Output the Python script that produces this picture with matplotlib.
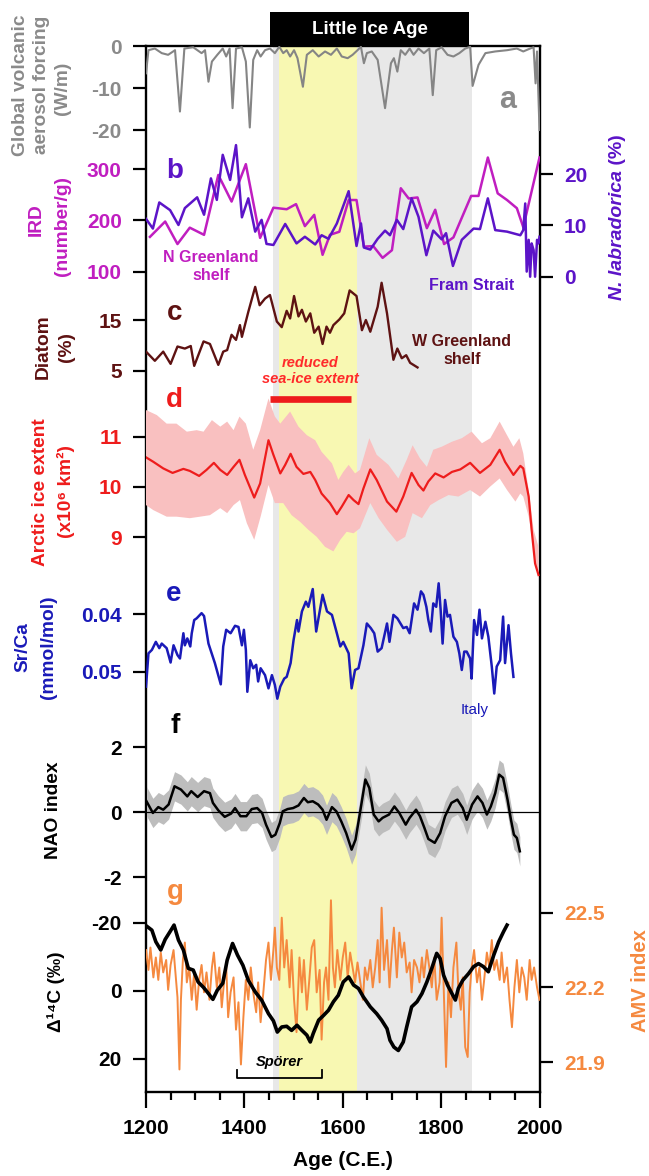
import matplotlib
matplotlib.use("Agg")
import matplotlib.pyplot as plt
import matplotlib.transforms as mtransforms
from matplotlib.patches import Rectangle
from matplotlib.ticker import MultipleLocator, FormatStrFormatter
import numpy as np

plt.rcParams['font.family'] = ['Liberation Sans', 'DejaVu Sans']
plt.rcParams['font.weight'] = 'bold'
plt.rcParams['axes.unicode_minus'] = False

# ---------------- data ----------------
lia_span = (1459, 1863)        # grey band / Little Ice Age
yellow_span = (1471, 1629)     # yellow band
lia_box = (1453, 1857)         # black title box
sea_ice_span = (1452, 1616)    # red "reduced sea-ice extent" bar
sporer_span = (1386, 1558)

# a: volcanic forcing (W/m)
volc_year = [1200, 1205, 1218, 1232, 1245, 1259, 1269, 1278, 1296, 1313, 1320, 1327, 1334, 1345,
             1356, 1363, 1370, 1376, 1383, 1395, 1403, 1411, 1418, 1426, 1433, 1442, 1452, 1462,
             1471, 1479, 1486, 1493, 1501, 1508, 1519, 1527, 1539, 1551, 1564, 1576, 1588, 1598,
             1610, 1620, 1630, 1637, 1643, 1649, 1659, 1671, 1686, 1698, 1704, 1711, 1718, 1727,
             1736, 1744, 1754, 1765, 1776, 1783, 1790, 1801, 1813, 1825, 1837, 1849, 1859, 1864,
             1876, 1890, 1910, 1934, 1954, 1967, 1981, 1988, 1992, 1995, 2000]
volc = [-6.5, -1.0, -0.6, -1.7, -2.1, -1.0, -15.6, -0.6, -0.3, -1.7, -1.0, -8.5, -3.7, -2.1,
        -0.6, -2.5, -0.6, -14.8, -0.6, -0.3, -3.7, -19.4, -3.3, -1.0, -2.5, -1.0, -0.6, -1.7,
        -0.2, -1.7, -1.0, -2.5, -1.0, -2.9, -9.7, -2.1, -1.0, -2.5, -1.3, -2.1, -0.6, -2.5,
        -2.9, -2.1, -1.0, -0.2, -4.1, -1.7, -1.3, -3.3, -14.8, -4.1, -2.9, -6.1, -1.0, -2.1,
        -0.6, -2.1, -0.6, -1.7, -0.6, -11.7, -1.0, -0.3, -2.1, -2.5, -1.7, -0.6, -0.2, -9.5,
        -4.5, -1.7, -1.3, -1.0, -0.6, -1.3, -0.6, -0.3, -8.9, -1.3, -20.0]

# b: IRD N Greenland shelf (number/g)
ird_year = [1208, 1239, 1264, 1289, 1318, 1347, 1374, 1403, 1432, 1459, 1486, 1505, 1523,
            1542, 1559, 1574, 1593, 1612, 1628, 1643, 1662, 1681, 1700, 1718, 1734, 1752,
            1771, 1788, 1806, 1825, 1861, 1876, 1895, 1915, 1934, 1954, 1967, 2000]
ird = [168, 198, 154, 186, 172, 289, 237, 310, 166, 225, 222, 232, 189,
       211, 133, 172, 178, 240, 240, 149, 150, 127, 142, 263, 243, 245,
       185, 221, 154, 167, 248, 248, 323, 253, 240, 224, 187, 323]

# b: N. labradorica, Fram Strait (%)
nl_year = [1200, 1214, 1227, 1249, 1266, 1279, 1304, 1318, 1332, 1344, 1356, 1371, 1383,
           1395, 1408, 1422, 1435, 1445, 1459, 1483, 1506, 1523, 1544, 1557, 1571, 1588,
           1612, 1628, 1637, 1643, 1656, 1671, 1686, 1696, 1710, 1723, 1740, 1754, 1770,
           1784, 1801, 1810, 1824, 1842, 1866, 1879, 1895, 1910, 1934, 1961, 1967, 1971,
           1974, 1978, 1981, 1984, 1988, 1991, 1995, 1998, 2000]
nl = [11.3, 9.4, 14.5, 13.0, 10.1, 13.4, 15.5, 12.1, 19.2, 15.0, 23.8, 18.9, 25.7,
      11.6, 15.3, 8.8, 11.1, 6.4, 6.2, 10.3, 6.5, 7.8, 6.3, 8.1, 7.4, 10.4,
      16.7, 6.0, 10.4, 5.7, 5.3, 7.4, 9.0, 8.1, 11.1, 9.3, 15.3, 11.7, 4.2,
      9.0, 7.3, 8.5, 2.1, 7.2, 9.4, 9.3, 15.3, 9.1, 8.8, 8.1, 9.1, 14.3,
      1.0, 7.2, 0.0, 6.5, 5.2, 0.0, 7.2, 6.5, 7.8]

# c: diatom, W Greenland shelf (%)
dia_year = [1200, 1218, 1235, 1250, 1264, 1279, 1291, 1298, 1317, 1330, 1347, 1357, 1365,
            1374, 1383, 1391, 1395, 1408, 1422, 1431, 1442, 1452, 1466, 1476, 1486, 1493,
            1501, 1510, 1517, 1525, 1534, 1542, 1551, 1559, 1567, 1574, 1581, 1593, 1603,
            1614, 1628, 1639, 1647, 1656, 1671, 1679, 1690, 1703, 1711, 1720, 1729, 1737, 1752]
dia = [8.8, 7.0, 8.8, 6.4, 9.8, 9.4, 9.9, 6.0, 10.8, 10.3, 6.2, 8.8, 9.1,
       12.1, 11.1, 14.0, 11.7, 16.6, 21.5, 17.9, 19.2, 19.9, 14.7, 13.6, 16.8, 15.3,
       19.7, 15.7, 17.0, 14.7, 16.3, 12.5, 13.7, 10.3, 13.7, 12.5, 14.0, 15.1, 16.3,
       20.8, 19.7, 13.0, 15.0, 12.7, 17.6, 22.3, 16.3, 7.2, 9.4, 7.5, 8.1, 6.6, 5.7]

# d: Arctic sea-ice extent (x10^6 km2)
ice_year = [1200, 1215, 1235, 1254, 1276, 1289, 1308, 1323, 1338, 1351, 1365, 1378, 1390,
            1401, 1420, 1432, 1449, 1459, 1473, 1483, 1494, 1506, 1520, 1534, 1544, 1557,
            1574, 1588, 1598, 1612, 1622, 1632, 1642, 1656, 1669, 1690, 1709, 1723, 1740,
            1754, 1764, 1774, 1788, 1805, 1822, 1839, 1859, 1879, 1900, 1919, 1930, 1947,
            1961, 1967, 1978, 1984, 1991, 1998]
ice = [10.59, 10.50, 10.37, 10.28, 10.36, 10.32, 10.22, 10.34, 10.48, 10.34, 10.24, 10.40, 10.54,
       10.24, 9.79, 10.07, 10.93, 10.64, 10.27, 10.44, 10.66, 10.40, 10.26, 10.30, 10.14, 9.87,
       9.68, 9.46, 9.61, 9.84, 9.74, 9.66, 9.97, 10.35, 10.14, 9.71, 9.51, 9.81, 10.28,
       10.04, 9.93, 10.11, 10.27, 10.19, 10.30, 10.35, 10.48, 10.28, 10.44, 10.74, 10.50, 10.24,
       10.42, 10.37, 9.81, 9.15, 8.48, 8.25]
ice_hi_year = [1200, 1222, 1242, 1262, 1283, 1303, 1317, 1334, 1351, 1365, 1378, 1390, 1403,
               1418, 1432, 1449, 1462, 1473, 1493, 1510, 1527, 1544, 1557, 1578, 1591, 1601,
               1612, 1625, 1635, 1654, 1669, 1693, 1713, 1730, 1742, 1757, 1771, 1784, 1801,
               1822, 1842, 1862, 1883, 1900, 1919, 1934, 1947, 1959, 1967, 1978, 1988, 1998]
ice_hi = [11.53, 11.43, 11.26, 11.26, 11.10, 11.13, 11.10, 11.33, 11.20, 11.30, 11.13, 11.40, 11.26,
          10.74, 11.13, 11.76, 11.40, 11.26, 11.50, 11.20, 11.03, 10.93, 10.70, 10.47, 10.14, 10.30,
          10.44, 10.27, 10.34, 10.97, 10.64, 10.44, 10.17, 10.54, 10.83, 10.57, 10.40, 10.74, 10.80,
          10.90, 10.97, 11.10, 10.87, 10.97, 11.30, 11.03, 10.80, 10.97, 10.67, 9.94, 9.15, 8.81]
ice_lo_year = [1200, 1215, 1242, 1262, 1289, 1310, 1330, 1351, 1365, 1378, 1391, 1405, 1420,
               1433, 1449, 1462, 1479, 1496, 1513, 1530, 1547, 1564, 1581, 1595, 1608, 1622,
               1635, 1656, 1673, 1690, 1710, 1727, 1742, 1761, 1778, 1795, 1815, 1835, 1859,
               1879, 1900, 1919, 1934, 1951, 1961, 1967, 1978, 1988, 1998]
ice_lo = [9.64, 9.54, 9.41, 9.41, 9.38, 9.41, 9.44, 9.58, 9.48, 9.64, 9.74, 9.28, 8.95,
          9.41, 10.04, 9.68, 9.68, 9.44, 9.31, 9.15, 9.01, 8.81, 8.72, 8.95, 9.11, 9.08,
          9.18, 9.68, 9.38, 9.15, 8.91, 9.01, 9.48, 9.38, 9.64, 9.74, 9.84, 9.81, 9.94,
          9.81, 10.01, 10.17, 9.94, 9.71, 9.87, 9.81, 9.41, 8.81, 8.15]

# e: Sr/Ca, Italy (mmol/mol)
sr_year = [1200, 1205, 1212, 1220, 1227, 1232, 1242, 1250, 1256, 1264, 1269, 1276, 1279, 1284,
           1290, 1293, 1298, 1303, 1313, 1318, 1327, 1340, 1352, 1357, 1363, 1372, 1381, 1388,
           1395, 1399, 1403, 1406, 1412, 1418, 1424, 1428, 1433, 1442, 1449, 1456, 1462, 1467,
           1473, 1481, 1486, 1494, 1500, 1507, 1510, 1517, 1525, 1530, 1539, 1546, 1559, 1568,
           1578, 1588, 1595, 1601, 1612, 1618, 1625, 1632, 1642, 1649, 1657, 1664, 1671, 1679,
           1690, 1695, 1703, 1711, 1723, 1730, 1736, 1745, 1752, 1759, 1764, 1770, 1774, 1779,
           1784, 1790, 1795, 1799, 1803, 1808, 1813, 1818, 1825, 1832, 1837, 1842, 1847, 1852,
           1859, 1862, 1867, 1873, 1878, 1883, 1890, 1896, 1903, 1908, 1913, 1920, 1926, 1930,
           1937, 1942, 1947]
sr = [0.0526, 0.0468, 0.0462, 0.0448, 0.0459, 0.0451, 0.0459, 0.0484, 0.0454, 0.0471,
      0.0477, 0.0433, 0.0454, 0.0442, 0.0456, 0.0433, 0.0410, 0.0407, 0.0398, 0.0403,
      0.0451, 0.0485, 0.0522, 0.0456, 0.0427, 0.0433, 0.0420, 0.0422, 0.0454, 0.0427,
      0.0462, 0.0535, 0.0480, 0.0494, 0.0488, 0.0517, 0.0494, 0.0506, 0.0529, 0.0506,
      0.0523, 0.0547, 0.0526, 0.0512, 0.0509, 0.0485, 0.0445, 0.0410, 0.0430, 0.0395,
      0.0378, 0.0387, 0.0356, 0.0430, 0.0366, 0.0395, 0.0401, 0.0433, 0.0456, 0.0448,
      0.0468, 0.0529, 0.0497, 0.0494, 0.0454, 0.0416, 0.0424, 0.0433, 0.0465, 0.0459,
      0.0416, 0.0448, 0.0401, 0.0407, 0.0424, 0.0422, 0.0433, 0.0381, 0.0392, 0.0360,
      0.0366, 0.0387, 0.0410, 0.0430, 0.0381, 0.0387, 0.0346, 0.0392, 0.0451, 0.0375,
      0.0404, 0.0401, 0.0439, 0.0448, 0.0468, 0.0497, 0.0465, 0.0465, 0.0477, 0.0512,
      0.0410, 0.0436, 0.0392, 0.0442, 0.0413, 0.0439, 0.0491, 0.0538, 0.0491, 0.0480,
      0.0404, 0.0485, 0.0419, 0.0468, 0.0509]

# f: NAO index
nao_year = [1201, 1214, 1225, 1235, 1246, 1258, 1271, 1284, 1292, 1305, 1318, 1330, 1336,
            1347, 1360, 1373, 1381, 1392, 1404, 1415, 1426, 1436, 1444, 1455, 1463, 1472,
            1478, 1488, 1499, 1510, 1521, 1529, 1539, 1550, 1559, 1567, 1578, 1587, 1597,
            1607, 1618, 1626, 1635, 1646, 1654, 1663, 1673, 1681, 1694, 1705, 1715, 1728,
            1736, 1749, 1757, 1766, 1774, 1787, 1798, 1808, 1821, 1833, 1844, 1852, 1863,
            1874, 1884, 1893, 1901, 1910, 1918, 1926, 1935, 1942, 1948, 1954, 1960]
nao = [0.34, -0.02, 0.16, 0.08, 0.24, 0.80, 0.70, 0.49, 0.65, 0.47, 0.65, 0.59, 0.29,
       0.06, -0.14, -0.04, 0.13, -0.12, -0.12, 0.10, 0.13, -0.02, -0.38, -0.76, -0.69, -0.33,
       0.03, 0.10, 0.13, 0.21, 0.44, 0.31, 0.34, 0.24, 0.08, -0.23, 0.16, 0.03, -0.28,
       -0.64, -1.15, -0.84, -0.02, 1.01, 0.75, -0.07, -0.28, -0.17, -0.07, 0.18, -0.02, -0.38,
       -0.17, 0.08, -0.12, -0.48, -0.82, -0.94, -0.64, -0.12, 0.29, 0.39, 0.13, -0.23, 0.24,
       0.49, 0.29, -0.07, 0.18, 0.59, 1.16, 1.06, 0.39, -0.23, -0.69, -0.79, -1.20]
nao_err = 0.45

# g: Delta 14C (permil)
c14_year = [1203, 1212, 1220, 1230, 1239, 1249, 1257, 1266, 1276, 1286, 1296, 1306, 1317,
            1327, 1336, 1345, 1356, 1365, 1376, 1386, 1397, 1408, 1422, 1435, 1449, 1459,
            1467, 1476, 1486, 1496, 1507, 1517, 1527, 1534, 1540, 1551, 1561, 1571, 1581,
            1591, 1601, 1612, 1622, 1632, 1642, 1656, 1669, 1679, 1690, 1696, 1704, 1713,
            1723, 1730, 1740, 1751, 1761, 1771, 1781, 1791, 1798, 1805, 1813, 1822, 1829,
            1835, 1844, 1856, 1866, 1876, 1886, 1896, 1907, 1917, 1927, 1934]
c14 = [-18.8, -17.8, -14.4, -12.0, -15.1, -17.4, -19.3, -14.9, -12.0, -6.6, -6.1, -2.6, -1.0,
       0.8, 2.5, -0.2, -2.2, -9.0, -13.9, -10.5, -7.5, -3.1, 0.3, 2.7, 6.7, 8.8,
       12.1, 10.6, 10.4, 11.6, 10.1, 11.6, 13.0, 15.0, 12.5, 8.6, 7.2, 5.7, 3.2,
       1.3, -2.6, -4.1, -1.7, -0.7, 1.8, 4.7, 6.7, 8.6, 11.1, 14.5, 16.5, 17.5,
       15.0, 10.6, 4.7, 3.2, 0.8, -2.6, -6.6, -11.0, -9.5, -4.6, -1.7, 0.8, 2.7,
       -0.7, -3.1, -5.1, -7.1, -8.0, -7.1, -5.6, -10.5, -14.4, -17.4, -19.3]

# g: AMV index
amv_year = [1200, 1205, 1209, 1215, 1220, 1225, 1230, 1235, 1241, 1245,
            1250, 1256, 1261, 1264, 1268, 1271, 1275, 1279, 1283, 1288,
            1293, 1298, 1303, 1308, 1313, 1318, 1323, 1329, 1334, 1338,
            1344, 1349, 1354, 1359, 1363, 1367, 1372, 1378, 1383, 1388,
            1393, 1398, 1403, 1408, 1413, 1418, 1424, 1428, 1433, 1439,
            1444, 1449, 1454, 1459, 1462, 1466, 1471, 1476, 1481, 1486,
            1492, 1496, 1501, 1506, 1512, 1517, 1521, 1527, 1532, 1537,
            1542, 1547, 1553, 1557, 1562, 1566, 1571, 1576, 1580, 1584,
            1589, 1595, 1600, 1605, 1610, 1615, 1620, 1625, 1630, 1635,
            1641, 1645, 1650, 1656, 1661, 1666, 1671, 1675, 1679, 1684,
            1690, 1695, 1700, 1704, 1710, 1715, 1720, 1725, 1730, 1736,
            1740, 1745, 1751, 1756, 1761, 1765, 1771, 1776, 1781, 1786,
            1791, 1797, 1801, 1806, 1810, 1815, 1820, 1825, 1831, 1835,
            1840, 1844, 1849, 1854, 1858, 1862, 1867, 1873, 1878, 1883,
            1887, 1893, 1898, 1903, 1908, 1913, 1919, 1923, 1928, 1934,
            1939, 1944, 1949, 1954, 1959, 1964, 1969, 1974, 1980, 1984,
            1989, 1995, 2000]
amv = [22.35, 22.27, 22.36, 22.24, 22.32, 22.23, 22.34, 22.26, 22.31, 22.19,
       22.29, 22.35, 22.23, 22.16, 21.87, 22.15, 22.31, 22.38, 22.22, 22.28,
       22.15, 22.26, 22.11, 22.23, 22.29, 22.18, 22.26, 22.15, 22.28, 22.34,
       22.20, 22.28, 22.12, 22.23, 22.29, 22.08, 22.18, 22.24, 22.03, 22.14,
       21.89, 22.08, 22.23, 22.15, 22.28, 22.18, 22.10, 22.22, 22.06, 22.19,
       22.31, 22.38, 22.23, 22.35, 22.44, 22.28, 22.23, 22.48, 22.28, 22.39,
       22.20, 22.35, 22.15, 22.02, 22.32, 22.18, 22.31, 22.11, 22.23, 22.36,
       22.39, 22.18, 22.27, 21.99, 22.22, 22.28, 22.15, 22.55, 22.28, 22.20,
       22.35, 22.23, 22.32, 22.38, 22.24, 22.34, 22.28, 22.22, 22.30, 22.23,
       22.15, 22.28, 22.23, 22.31, 22.20, 22.28, 22.39, 22.22, 22.52, 22.27,
       22.39, 22.20, 22.35, 22.44, 22.24, 22.42, 22.32, 22.38, 22.26, 22.30,
       22.18, 22.31, 22.28, 22.22, 22.32, 22.24, 22.35, 22.28, 22.20, 22.32,
       22.15, 22.22, 22.48, 22.15, 21.88, 22.22, 22.08, 22.28, 22.38, 22.19,
       22.11, 22.24, 21.96, 21.92, 22.18, 22.28, 22.35, 22.22, 22.28, 22.15,
       22.22, 22.34, 22.28, 22.39, 22.27, 22.31, 22.23, 22.34, 22.22, 22.28,
       22.15, 22.04, 22.20, 22.31, 22.18, 22.28, 22.24, 22.15, 22.31, 22.23,
       22.28, 22.20, 22.15]

# ---------------- colours ----------------
GREY = '#8a8a8a'
MAGENTA = '#c01ec0'
PURPLE = '#5c14c8'
BROWN = '#5e1212'
RED = '#ee1c1c'
PINK = '#f9c0c0'
BLUE = '#1a1ab8'
ORANGE = '#f5893f'

# ---------------- layout (pixels of a 649 x 1176 canvas) ----------------
W, H = 649, 1176
X0, X1 = 146, 539.5
TOP, BOT = 46, 1092
TICK_FS = 15


def fpos(x, y):
    return x / W, 1 - y / H


fig = plt.figure(figsize=(W / 100, H / 100), dpi=100)

frame = fig.add_axes([X0 / W, 1 - BOT / H, (X1 - X0) / W, (BOT - TOP) / H])
frame.set_xlim(1200, 2000)
frame.set_ylim(0, 1)
frame.set_yticks([])
frame.axvspan(*lia_span, color='#e8e8e8', lw=0, zorder=0)
frame.axvspan(*yellow_span, color='#f8f8b2', lw=0, zorder=0)
for s in frame.spines.values():
    s.set_linewidth(1.7)
frame.set_xticks(range(1200, 2001, 200))
frame.xaxis.set_minor_locator(MultipleLocator(50))
frame.tick_params(axis='x', which='major', direction='out', length=11.5, width=1.6,
                  pad=8, labelsize=TICK_FS)
frame.tick_params(axis='x', which='minor', direction='out', length=6, width=1.6)
frame.set_xlabel('Age (C.E.)', fontsize=15, fontweight='bold', labelpad=9)

# Little Ice Age box on top of the frame
blend = mtransforms.blended_transform_factory(frame.transData, frame.transAxes)
box_h = 34 / (BOT - TOP)
frame.add_patch(Rectangle((lia_box[0], 1.0), lia_box[1] - lia_box[0], box_h,
                          transform=blend, facecolor='black', edgecolor='none', clip_on=False))
frame.text(sum(lia_box) / 2, 1.0 + box_h / 2, 'Little Ice Age', transform=blend, color='white',
           ha='center', va='center', fontsize=13.5)


def panel(top, bot, v1, p1, v2, p2, color, right=False):
    ax = fig.add_axes([X0 / W, 1 - bot / H, (X1 - X0) / W, (bot - top) / H])
    ax.patch.set_visible(False)
    for s in ax.spines.values():
        s.set_visible(False)
    ax.set_xlim(1200, 2000)
    k = (v2 - v1) / (p2 - p1)
    ax.set_ylim(v1 + (bot - p1) * k, v1 + (top - p1) * k)
    ax.tick_params(axis='x', bottom=False, labelbottom=False)
    if right:
        ax.yaxis.tick_right()
    ax.tick_params(axis='y', direction='out', length=9.5, width=1.6, pad=8,
                   labelsize=TICK_FS, labelcolor=color)
    return ax


# a
ax_a = panel(TOP, 140, 0, 46, -20, 130, GREY)
ax_a.plot(volc_year, volc, color='#858585', lw=1.5)
ax_a.set_yticks([0, -10, -20])

# b
ax_b = panel(140, 300, 300, 169.3, 100, 271.7, MAGENTA)
ax_b.plot(ird_year, ird, color=MAGENTA, lw=1.8)
ax_b.set_yticks([100, 200, 300])
ax_b2 = panel(140, 300, 20, 174.3, 0, 276.7, PURPLE, right=True)
ax_b2.plot(nl_year, nl, color=PURPLE, lw=1.8)
ax_b2.set_yticks([0, 10, 20])

# c
ax_c = panel(275, 390, 15, 320, 5, 371, BROWN)
ax_c.plot(dia_year, dia, color=BROWN, lw=1.7)
ax_c.set_yticks([5, 15])

# d
ax_d = panel(380, 590, 11, 436.7, 9, 537.3, RED)
ax_d.fill(np.r_[ice_hi_year, ice_lo_year[::-1]], np.r_[ice_hi, ice_lo[::-1]],
          color=PINK, lw=0)
ax_d.plot(ice_year, ice, color=RED, lw=1.6)
ax_d.plot(sea_ice_span, [11.75, 11.75], color=RED, lw=4.8, solid_capstyle='butt', clip_on=False)
ax_d.set_yticks([9, 10, 11])

# e
ax_e = panel(575, 720, 0.04, 614.3, 0.05, 671.7, BLUE)
ax_e.plot(sr_year, sr, color=BLUE, lw=1.8)
ax_e.set_yticks([0.04, 0.05])
ax_e.yaxis.set_major_formatter(FormatStrFormatter('%.2f'))

# f
ax_f = panel(720, 900, 2, 747.3, -2, 877.3, 'black')
nao_arr = np.array(nao)
ax_f.fill_between(nao_year, nao_arr - nao_err, nao_arr + nao_err, color='#bdbdbd', lw=0)
ax_f.axhline(0, color='black', lw=0.9)
ax_f.plot(nao_year, nao, color='black', lw=1.8)
ax_f.set_yticks([-2, 0, 2])

# g
ax_g2 = panel(890, BOT, 22.5, 912.7, 21.9, 1062, ORANGE, right=True)
ax_g2.plot(amv_year, amv, color=ORANGE, lw=1.4)
ax_g2.set_yticks([21.9, 22.2, 22.5])
ax_g = panel(890, BOT, -20, 922.7, 20, 1059, 'black')
ax_g.plot(c14_year, c14, color='black', lw=2.6)
ax_g.set_yticks([-20, 0, 20])
ax_g.plot([sporer_span[0], sporer_span[0], sporer_span[1], sporer_span[1]],
          [23.2, 25.6, 25.6, 23.2], color='black', lw=1.3, clip_on=False)
ax_g.text(sum(sporer_span) / 2, 21.0, 'Spörer', ha='center', va='center',
          fontsize=10.5, style='italic')

# ---------------- labels ----------------
LABEL_FS = 13.8


def vtext(x, y, s, color, **kw):
    fig.text(*fpos(x, y), s, rotation=90, ha='center', va='center', color=color,
             fontsize=kw.pop('fontsize', LABEL_FS), **kw)


vtext(21, 85, 'Global volcanic', GREY)
vtext(41, 85, 'aerosol forcing', GREY)
vtext(62, 88, '(W/m)', GREY)
vtext(36, 220, 'IRD', MAGENTA)
vtext(62, 226, '(number/g)', MAGENTA)
vtext(43, 347, 'Diatom', BROWN)
vtext(67, 347, '(%)', BROWN)
vtext(41, 492, 'Arctic ice extent', RED)
vtext(66, 492, '(x10⁶ km²)', RED)
vtext(23, 647, 'Sr/Ca', BLUE)
vtext(49, 647, '(mmol/mol)', BLUE)
vtext(54, 810, 'NAO index', 'black')
vtext(56, 992, 'Δ¹⁴C (‰)', 'black')
vtext(641, 981, 'AMV index', ORANGE, fontsize=14.5)

# right label of b: italic species name + (%)
fig.text(*fpos(618, 170), 'N. labradorica', rotation=90, rotation_mode='anchor',
         ha='right', va='center', color=PURPLE, fontsize=14, style='italic')
fig.text(*fpos(618, 170), ' (%)', rotation=90, rotation_mode='anchor',
         ha='left', va='center', color=PURPLE, fontsize=14)

# panel letters
for letter, x, y, c, fs in [('a', 508, 108, '#8a8a8a', 22), ('b', 175, 178, PURPLE, 20),
                            ('c', 175, 320, BROWN, 20), ('d', 174, 407, RED, 20),
                            ('e', 174, 601, BLUE, 20), ('f', 175, 733, 'black', 20),
                            ('g', 175, 899, ORANGE, 20)]:
    fig.text(*fpos(x, y), letter, color=c, fontsize=fs, ha='center', va='baseline')

# annotations
fig.text(*fpos(211, 267), 'N Greenland\nshelf', color=MAGENTA, fontsize=11.5,
         ha='center', va='center', linespacing=1.25)
fig.text(*fpos(472, 285), 'Fram Strait', color=PURPLE, fontsize=11.5, ha='center', va='center')
fig.text(*fpos(462, 350), 'W Greenland\nshelf', color=BROWN, fontsize=11.5,
         ha='center', va='center', linespacing=1.25)
fig.text(*fpos(310, 371), 'reduced\nsea-ice extent', color='#ff2a2a', fontsize=10.5,
         style='italic', ha='center', va='center', linespacing=1.15)
fig.text(*fpos(475, 710), 'Italy', color=BLUE, fontsize=11, weight='normal',
         ha='center', va='center')

fig.savefig('out.png', dpi=100)
